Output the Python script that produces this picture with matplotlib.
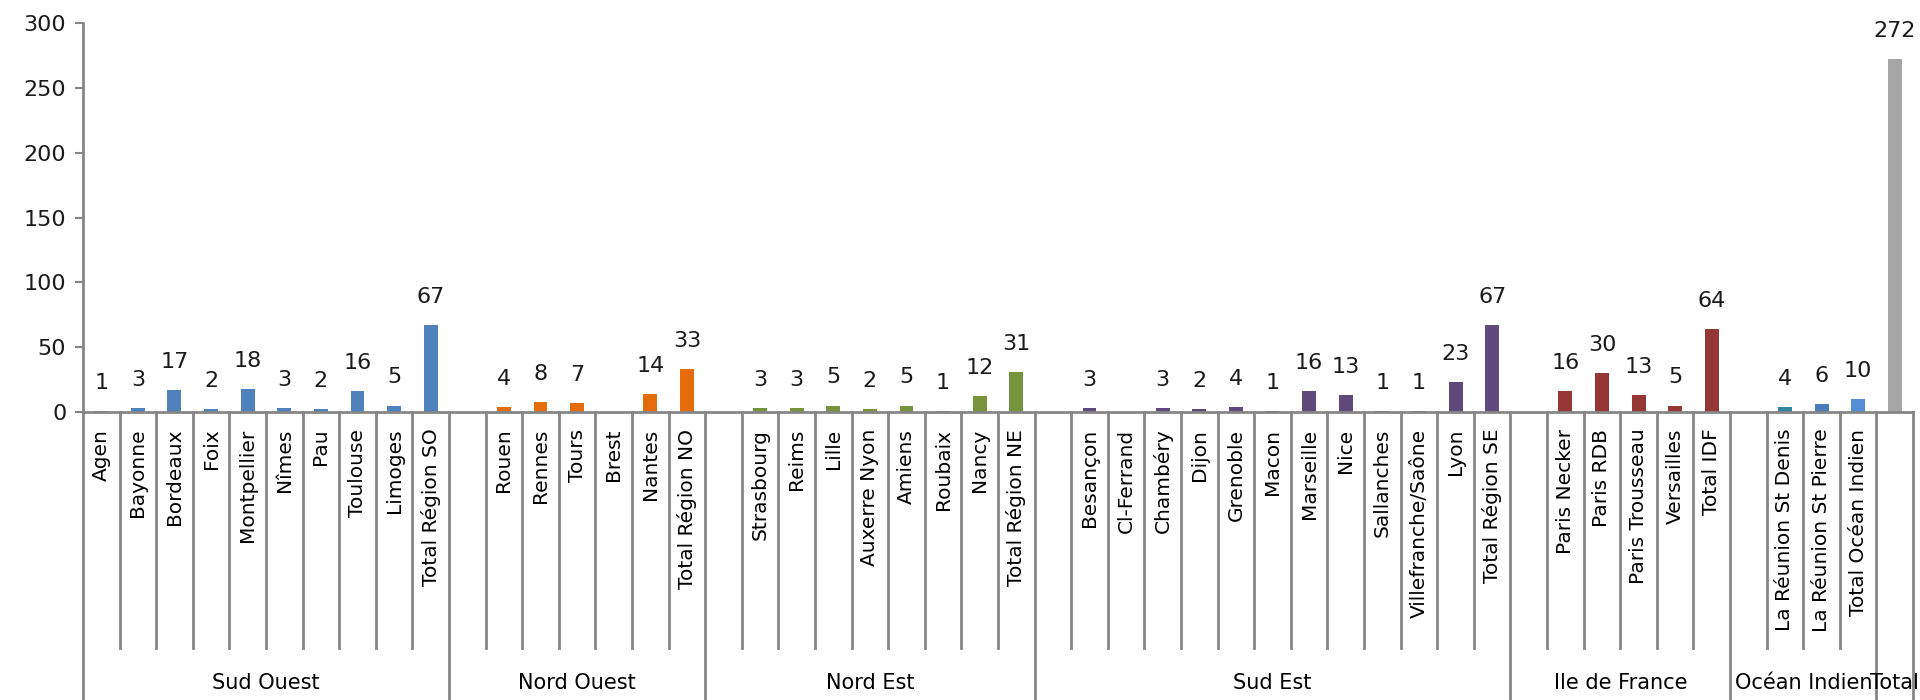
import numpy as np
import matplotlib.pyplot as plt
import matplotlib.transforms as mtransforms

plt.rcParams["font.family"] = ["DejaVu Sans"]

# one entry per slot on the category axis; "" = empty slot, None = no value
categories = [
    "Agen", "Bayonne", "Bordeaux", "Foix", "Montpellier", "Nîmes", "Pau",
    "Toulouse", "Limoges", "Total Région SO",
    "", "Rouen", "Rennes", "Tours", "Brest", "Nantes", "Total Région NO",
    "", "Strasbourg", "Reims", "Lille", "Auxerre Nyon", "Amiens", "Roubaix",
    "Nancy", "Total Région NE",
    "", "Besançon", "Cl-Ferrand", "Chambéry", "Dijon", "Grenoble", "Macon",
    "Marseille", "Nice", "Sallanches", "Villefranche/Saône", "Lyon",
    "Total Région SE",
    "", "Paris Necker", "Paris RDB", "Paris Trousseau", "Versailles", "Total IDF",
    "", "La Réunion St Denis", "La Réunion St Pierre", "Total Océan Indien",
    "",
]
values = [
    1, 3, 17, 2, 18, 3, 2, 16, 5, 67,
    None, 4, 8, 7, None, 14, 33,
    None, 3, 3, 5, 2, 5, 1, 12, 31,
    None, 3, None, 3, 2, 4, 1, 16, 13, 1, 1, 23, 67,
    None, 16, 30, 13, 5, 64,
    None, 4, 6, 10,
    272,
]
groups = ["Sud Ouest", "Nord Ouest", "Nord Est", "Sud Est", "Ile de France",
          "Océan Indien", "Total"]
group_sizes = [10, 7, 9, 13, 6, 4, 1]
group_colors = ["#4F81BD", "#E46C0A", "#77933C", "#604A7B", "#953735",
                None, "#A6A6A6"]
oi_colors = ["#31859C", "#31859C", "#4A7EBB", "#558ED5"]

colors = []
for g, n in enumerate(group_sizes):
    if group_colors[g] is None:
        colors += oi_colors
    else:
        colors += [group_colors[g]] * n

axis_col = "#868686"

fig = plt.figure(figsize=(19.2, 7), dpi=100)
ax = fig.add_axes([0.0432, 0.4114, 0.9532, 0.5557])

x = np.arange(len(categories))
for i, v in enumerate(values):
    if v is None:
        continue
    ax.bar(x[i], v, width=0.38, color=colors[i], zorder=2)
    ax.annotate(str(v), (x[i], v), xytext=(0, 13), textcoords="offset points",
                ha="center", va="bottom", fontsize=16, color="#1a1a1a")

ax.set_xlim(-0.5, len(categories) - 0.5)
ax.set_ylim(0, 300)
ax.set_yticks(range(0, 301, 50))
ax.tick_params(axis="y", labelsize=16, length=6, width=1.5, color=axis_col,
               pad=6, labelcolor="#1a1a1a")

ax.set_xticks(x)
ax.set_xticklabels(categories, rotation=90, fontsize=14.5, color="#000000")
ax.tick_params(axis="x", length=0, pad=12)

for side in ["top", "right"]:
    ax.spines[side].set_visible(False)
for side in ["left", "bottom"]:
    ax.spines[side].set_color(axis_col)
    ax.spines[side].set_linewidth(2)

# separators below the category axis
trans = mtransforms.blended_transform_factory(ax.transData, ax.transAxes)
bounds = np.cumsum([0] + group_sizes) - 0.5
for b in np.arange(len(categories) + 1) - 0.5:
    if b in bounds:
        continue
    ax.plot([b, b], [0, -0.607], transform=trans, color=axis_col, lw=2,
            clip_on=False)
for b in bounds:
    ax.plot([b, b], [0, -0.75], transform=trans, color=axis_col, lw=2,
            clip_on=False)

# group names
for g, name in enumerate(groups):
    centre = (bounds[g] + bounds[g + 1]) / 2
    ax.text(centre, -0.697, name, transform=trans, ha="center", va="center",
            fontsize=15, color="#000000")

fig.savefig("out.png", dpi=100)
